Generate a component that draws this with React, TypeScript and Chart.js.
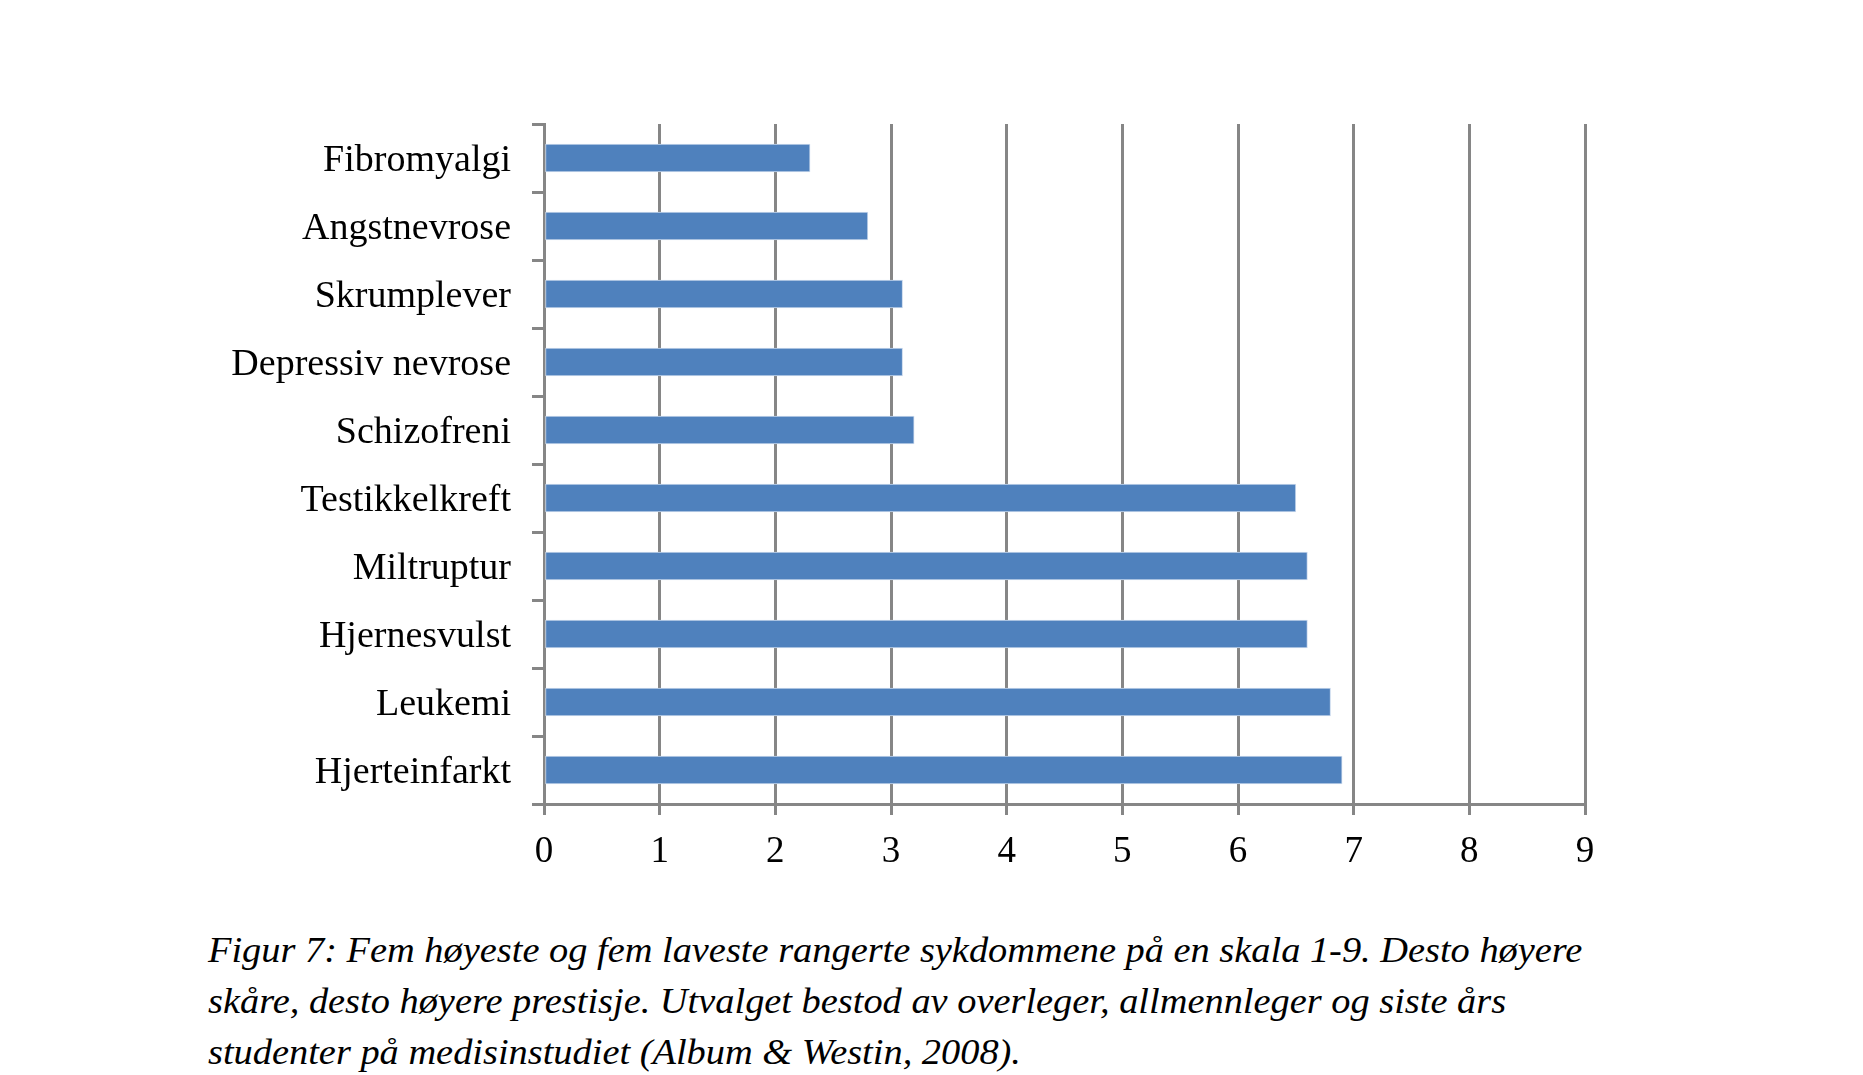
import React, { useEffect, useRef } from "react";
import { Chart, registerables } from "chart.js";

Chart.register(...registerables);

const categories = [
  "Fibromyalgi",
  "Angstnevrose",
  "Skrumplever",
  "Depressiv nevrose",
  "Schizofreni",
  "Testikkelkreft",
  "Miltruptur",
  "Hjernesvulst",
  "Leukemi",
  "Hjerteinfarkt",
];
const scores = [2.3, 2.8, 3.1, 3.1, 3.2, 6.5, 6.6, 6.6, 6.8, 6.9];
const xTicks = [0, 1, 2, 3, 4, 5, 6, 7, 8, 9];
const captionLines = [
  "Figur 7: Fem høyeste og fem laveste rangerte sykdommene på en skala 1-9. Desto høyere",
  "skåre, desto høyere prestisje. Utvalget bestod av overleger, allmennleger og siste års",
  "studenter på medisinstudiet (Album & Westin, 2008).",
];

const GRID = "#868686";
const FONT = "'Liberation Serif', 'Times New Roman', serif";

export default function App() {
  const ref = useRef<HTMLCanvasElement | null>(null);
  useEffect(() => {
    if (!ref.current) return;
    const chart = new Chart(ref.current, {
      type: "bar",
      data: {
        labels: categories,
        datasets: [
          {
            data: scores,
            backgroundColor: "#4F81BD",
            borderColor: "#c9d8ec",
            borderWidth: 1,
            borderSkipped: false,
            barThickness: 28,
          },
        ],
      },
      options: {
        indexAxis: "y",
        animation: false,
        responsive: false,
        maintainAspectRatio: false,
        events: [],
        layout: { padding: { top: 124, right: 278, left: 0, bottom: 0 } },
        plugins: {
          legend: { display: false },
          tooltip: { enabled: false },
          title: { display: false },
        },
        scales: {
          x: {
            type: "linear",
            min: 0,
            max: 9,
            afterBuildTicks: (scale: any) => {
              scale.ticks = xTicks.map((v) => ({ value: v }));
            },
            afterFit: (scale: any) => {
              scale.height = 96;
            },
            grid: {
              color: GRID,
              lineWidth: 3,
              tickLength: 11,
              drawTicks: true,
            },
            border: { color: GRID, width: 3 },
            ticks: {
              color: "#000",
              font: { family: FONT, size: 37 },
              padding: 15,
              autoSkip: false,
            },
          },
          y: {
            type: "category",
            offset: true,
            afterFit: (scale: any) => {
              scale.width = 544;
            },
            grid: {
              offset: true,
              drawOnChartArea: false,
              drawTicks: true,
              tickLength: 12,
              color: GRID,
              lineWidth: 3,
            },
            border: { color: GRID, width: 3 },
            ticks: {
              color: "#000",
              font: { family: FONT, size: 38 },
              padding: 21,
              labelOffset: 3,
              autoSkip: false,
            },
          },
        },
      },
    });
    return () => chart.destroy();
  }, []);

  return (
    <div style={{ position: "absolute", left: 0, top: 0, width: 1863, height: 1075, background: "#fff" }}>
      <canvas
        ref={ref}
        width={1863}
        height={900}
        style={{ position: "absolute", left: 0, top: 0, width: 1863, height: 900 }}
      />
      <div
        style={{
          position: "absolute",
          left: 208,
          top: 925,
          fontFamily: FONT,
          fontStyle: "italic",
          fontSize: 36,
          lineHeight: "51px",
          color: "#000",
          whiteSpace: "nowrap",
          transform: "scaleX(1.066)",
          transformOrigin: "0 0",
        }}
      >
        {captionLines.map((l, i) => (
          <div key={i}>{l}</div>
        ))}
      </div>
    </div>
  );
}
